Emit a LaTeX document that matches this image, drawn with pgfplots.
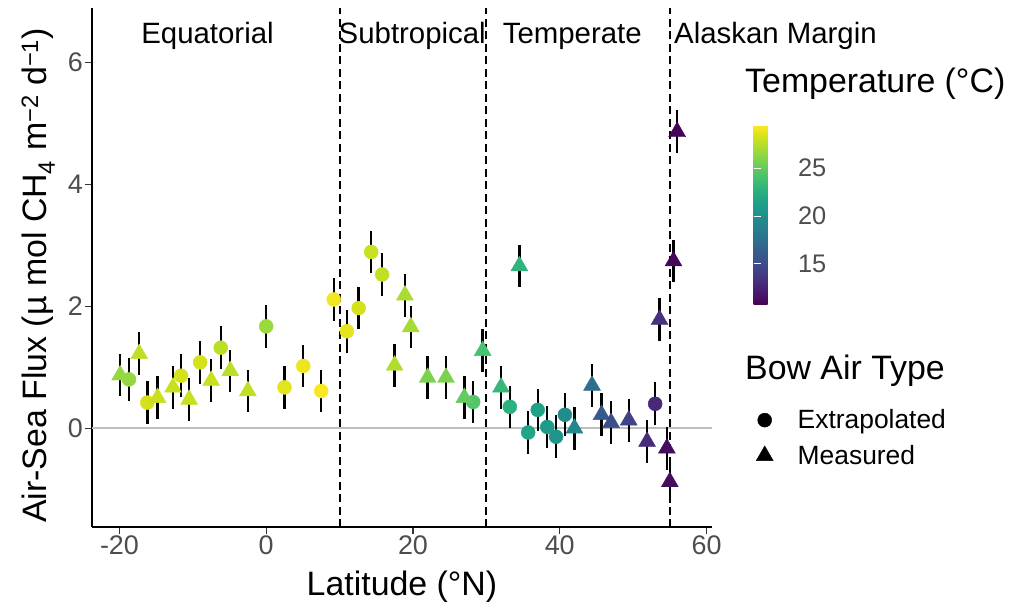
\documentclass[border=0pt]{standalone}
\usepackage{fontspec}
\setmainfont{Liberation Sans}
\usepackage{pgfplots}
\pgfplotsset{compat=1.18}
\usepackage{pgfplotstable}

\definecolor{tickgrey}{HTML}{4D4D4D}
\definecolor{zerogrey}{HTML}{BEBEBE}

\pgfplotsset{/pgf/number format/assume math mode=true}

% Extrapolated bow air (circles): latitude, flux, error, temperature
\pgfplotstableread{
x     y      e     T
-18.7  0.80  0.35  26.5
-16.2  0.42  0.35  28.3
-11.6  0.86  0.35  28.3
-9.0   1.08  0.35  28.3
-6.2   1.32  0.35  27.6
0.0    1.67  0.35  26.7
2.5    0.67  0.35  28.7
5.05   1.02  0.35  29.0
7.5    0.61  0.35  29.4
9.2    2.11  0.35  29.2
11.0   1.59  0.35  28.8
12.6   1.97  0.35  28.3
14.3   2.89  0.35  28.0
15.8   2.52  0.35  27.8
28.2   0.43  0.35  24.4
33.2   0.35  0.35  22.6
35.7  -0.07  0.35  21.8
37.0   0.30  0.35  21.5
38.3   0.02  0.35  21.0
39.5  -0.14  0.35  20.5
40.7   0.22  0.35  19.8
53.0   0.40  0.35  12.8
}\extrap

% Measured bow air (triangles)
\pgfplotstableread{
x     y      e     T
-19.9  0.87  0.35  26.5
-17.3  1.22  0.35  27.7
-14.8  0.50  0.35  28.0
-12.7  0.67  0.35  28.0
-10.5  0.47  0.35  28.0
-7.5   0.78  0.35  28.0
-4.9   0.94  0.35  27.6
-2.5   0.61  0.35  27.8
17.5   1.03  0.35  27.3
18.9   2.18  0.35  27.1
19.7   1.66  0.35  27.0
22.0   0.83  0.35  25.8
24.5   0.83  0.35  25.8
27.0   0.50  0.35  25.0
29.5   1.27  0.35  24.0
32.0   0.67  0.35  23.3
34.5   2.66  0.35  23.0
42.0   0.00  0.35  19.5
44.4   0.70  0.35  17.5
45.7   0.22  0.35  16.0
47.0   0.09  0.35  15.3
49.4   0.13  0.35  14.5
51.9  -0.22  0.35  13.0
53.6   1.78  0.35  13.3
54.6  -0.33  0.35  11.3
55.0  -0.88  0.35  11.3
55.5   2.74  0.35  11.0
56.0   4.86  0.35  10.8
}\measured

\begin{document}
\begin{tikzpicture}
\useasboundingbox (-92bp,-77bp) rectangle (929bp,527bp);
\begin{axis}[
  scale only axis, width=620bp, height=519bp,
  xmin=-23.74, xmax=60.75, ymin=-1.62, ymax=6.89,
  clip=false,
  axis lines*=left,
  axis line style={-, line width=1.3bp, black},
  xtick={-20,0,20,40,60}, ytick={0,2,4,6},
  tick align=outside, major tick length=7bp,
  tick style={line width=1.1bp, color=black!80},
  ticklabel style={font=\fontsize{27}{30}\selectfont, text=tickgrey},
  xticklabel style={inner sep=2bp},
  yticklabel style={inner sep=2bp},
  xlabel={Latitude (°N)},
  ylabel={Air-Sea Flux (µ mol CH\textsubscript{4} m\textsuperscript{−2} d\textsuperscript{−1})},
  label style={font=\fontsize{34}{38}\selectfont},
  xlabel style={at={(axis description cs:0.5,0)}, anchor=base, yshift=-68bp},
  ylabel style={at={(axis description cs:0,0.5)}, anchor=base, yshift=45bp, xshift=-8bp},
  colormap/viridis,
  point meta min=10.7, point meta max=29.5,
  colorbar,
  colorbar style={
    scale only axis,
    at={(parent axis.north east)}, anchor=north west,
    xshift=33bp, yshift=-117bp,
    width=37bp, height=180bp,
    ytick={15,20,25},
    ytick pos=both, yticklabel pos=right,
    tick align=inside, major tick length=7bp,
    tick style={white, line width=0.8bp},
    axis line style={draw=none},
    yticklabel style={font=\fontsize{25.5}{28}\selectfont, text=tickgrey, xshift=4bp},
  },
  legend style={at={(axis description cs:1.071,0.23)}, anchor=north west,
    draw=none, fill=none, inner sep=0pt,
    font=\fontsize{26.5}{30}\selectfont, row sep=11bp},
  legend cell align=left,
  legend image code/.code={\path[draw=none, fill=none] (0bp,0bp) -- (39bp,0bp); \draw[#1] plot coordinates {(8bp,0bp)};},
]
% reference lines
\addplot[forget plot, zerogrey, line width=1.6bp] coordinates {(-23.74,0) (60.75,0)};
\addplot[forget plot, black, line width=2bp, dash pattern=on 8bp off 4.5bp] coordinates {(10,-1.62) (10,6.89)};
\addplot[forget plot, black, line width=2bp, dash pattern=on 8bp off 4.5bp] coordinates {(30,-1.62) (30,6.89)};
\addplot[forget plot, black, line width=2bp, dash pattern=on 8bp off 4.5bp] coordinates {(55,-1.62) (55,6.89)};

% points
\addplot[forget plot, scatter, only marks, mark=*, mark size=7bp, point meta=explicit,
  scatter/use mapped color={draw=mapped color, fill=mapped color}]
  table[x=x, y=y, meta=T] {\extrap};
\addplot[forget plot, scatter, only marks, mark=triangle*, mark size=9.8bp, point meta=explicit,
  scatter/use mapped color={draw=mapped color, fill=mapped color}]
  table[x=x, y=y, meta=T] {\measured};

% error bars on top
\addplot[forget plot, draw=none, mark=none,
  error bars/.cd, y dir=both, y explicit, error mark=none,
  error bar style={draw=black, line width=2.4bp, solid}]
  table[x=x, y=y, y error=e] {\extrap};
\addplot[forget plot, draw=none, mark=none,
  error bars/.cd, y dir=both, y explicit, error mark=none,
  error bar style={draw=black, line width=2.4bp, solid}]
  table[x=x, y=y, y error=e] {\measured};

\addlegendimage{only marks, mark=*, mark size=7bp, black}
\addlegendentry{Extrapolated}
\addlegendimage{only marks, mark=triangle*, mark size=9.8bp, black}
\addlegendentry{Measured}

% zone labels
\node[anchor=base, font=\fontsize{29.5}{32}\selectfont, inner sep=0pt] at (axis cs:-8,6.31) {Equatorial};
\node[anchor=base, font=\fontsize{29.5}{32}\selectfont, inner sep=0pt] at (axis cs:19.9,6.31) {Subtropical};
\node[anchor=base, font=\fontsize{29.5}{32}\selectfont, inner sep=0pt] at (axis cs:41.7,6.31) {Temperate};
\node[anchor=base, font=\fontsize{29.5}{32}\selectfont, inner sep=0pt] at (axis cs:69.4,6.31) {Alaskan Margin};
\end{axis}
% legend titles
\node[anchor=base west, inner sep=0pt, font=\fontsize{34}{38}\selectfont] at (653bp,434bp) {Temperature (°C)};
\node[anchor=base west, inner sep=0pt, font=\fontsize{34}{38}\selectfont] at (653bp,147bp) {Bow Air Type};
\end{tikzpicture}
\end{document}
